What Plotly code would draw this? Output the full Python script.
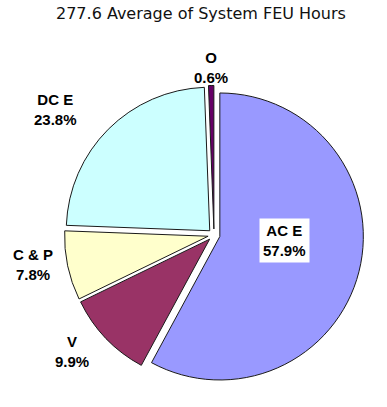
import math
import plotly.graph_objects as go

# ---- data ----
labels = ["AC E", "V", "C & P", "DC E", "O"]
values = [57.9, 9.9, 7.8, 23.8, 0.6]
colors = ["#9999FF", "#993366", "#FFFFCC", "#CCFFFF", "#660066"]
title_text = "277.6 Average of System FEU Hours"

# ---- style / layout ----
W, H = 387, 407
CX, CY, R = 214, 235, 143.5           # pie centre (px) and radius
PULL = 0.042
# label placement: (angle nudge in degrees, radius factor)
label_place = {"AC E": (-10, 0.49), "V": (4.45, 1.278), "C & P": (2.5, 1.275),
               "DC E": (-6.65, 1.404), "O": (0.0, 1.164)}

half = R * (1 + PULL)
dom_x = [(CX - half) / W, (CX + half) / W]
dom_y = [(H - CY - half) / H, (H - CY + half) / H]

fig = go.Figure(go.Pie(
    labels=labels, values=values, sort=False, direction="clockwise", rotation=0,
    marker=dict(colors=colors, line=dict(color="#1a1a1a", width=1)),
    pull=[PULL] * len(values), textinfo="none", hoverinfo="label+percent",
    domain=dict(x=dom_x, y=dom_y), showlegend=False,
))

total = sum(values)
cum = 0.0
annotations = []
for lab, v in zip(labels, values):
    mid = (cum + v / 2) / total * 360.0
    cum += v
    nudge, fac = label_place[lab]
    ang = math.radians(mid + nudge)
    px = CX + fac * R * math.sin(ang)
    py = CY - fac * R * math.cos(ang)
    pct = f"{v / total * 100:.1f}%"
    inside = lab == "AC E"
    annotations.append(dict(
        x=px / W, y=1 - py / H, xref="paper", yref="paper",
        text=f"<b>{lab}</b><br><b>{pct}</b>", showarrow=False,
        xanchor="center", yanchor="middle", align="center",
        font=dict(family="Liberation Sans, Arial, sans-serif", size=15, color="#000"),
        bgcolor="#FFFFFF" if inside else None, borderpad=3 if inside else 1,
    ))

annotations.append(dict(
    x=201.5 / W, y=1 - 14 / H, xref="paper", yref="paper", text=title_text,
    showarrow=False, xanchor="center", yanchor="middle",
    font=dict(family="DejaVu Sans, Verdana, sans-serif", size=16, color="#111111"),
))

fig.update_layout(
    width=W, height=H, margin=dict(l=0, r=0, t=0, b=0),
    paper_bgcolor="#FFFFFF", plot_bgcolor="#FFFFFF",
    annotations=annotations,
)
fig.write_html("out.html", config={"displayModeBar": False},
               post_script="document.body.style.margin='0';document.body.style.overflow='hidden';")
